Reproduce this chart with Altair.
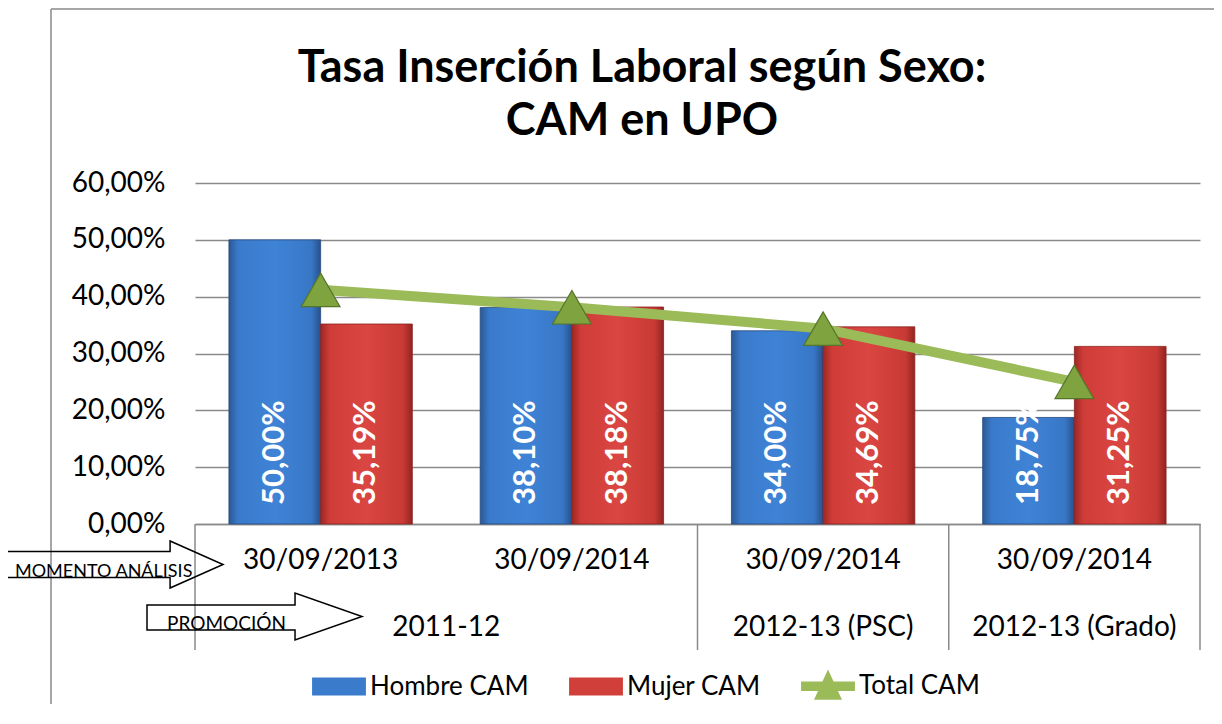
import altair as alt
import pandas as pd

# ---------------- data ----------------
momento = ["30/09/2013", "30/09/2014", "30/09/2014", "30/09/2014"]
promocion = ["2011-12", "2011-12", "2012-13 (PSC)", "2012-13 (Grado)"]
hombre = [50.00, 38.10, 34.00, 18.75]
mujer = [35.19, 38.18, 34.69, 31.25]
total = [41.2, 38.14, 34.38, 25.0]
series = ["Hombre CAM", "Mujer CAM", "Total CAM"]
y_ticks = [0, 10, 20, 30, 40, 50, 60]
title_lines = ["Tasa Inserción Laboral según Sexo:", "CAM en UPO"]

FONT = "Lato"
W, H = 1005, 341
GRID = "#8a8a8a"

cats = [f"{m}|{p}" for m, p in zip(momento, promocion)]


def pct(v):
    return f"{v:.2f}".replace(".", ",") + "%"


bars = pd.DataFrame({
    "cat": cats * 2,
    "serie": [series[0]] * len(cats) + [series[1]] * len(cats),
    "valor": hombre + mujer,
})
bars["etiqueta"] = bars["valor"].map(pct)
tot = pd.DataFrame({"cat": cats, "valor": total, "serie": series[2]})
promo_df = pd.DataFrame({"idx": list(range(len(promocion))), "promocion": promocion})
bounds = [i for i in range(len(promocion)) if i == 0 or promocion[i] != promocion[i - 1]] + [len(promocion)]
sep_df = pd.DataFrame({"b": bounds})
legend_df = pd.DataFrame({"serie": series})
one = pd.DataFrame({"k": [0]})

# ---------------- encodings ----------------
x_scale = alt.Scale(domain=cats, paddingInner=0.27, paddingOuter=0.135)
x_axis = alt.Axis(
    title=None, labelExpr="split(datum.value, '|')[0]", labelAngle=0,
    labelFont=FONT, labelFontSize=28, labelColor="black", labelPadding=22,
    ticks=False, domainColor=GRID, domainWidth=1.5, grid=False,
)
y_scale = alt.Scale(domain=[0, 60], nice=False, zero=True)
y_axis = alt.Axis(
    title=None, values=y_ticks,
    labelExpr="replace(format(datum.value, '.2f'), '.', ',') + '%'",
    labelFont=FONT, labelFontSize=28, labelColor="black", labelPadding=30,
    ticks=False, domain=False, grid=True, gridColor=GRID, gridWidth=1.5,
)
off_scale = alt.Scale(domain=series[:2], paddingInner=0, paddingOuter=0)


def grad(stops):
    return alt.Gradient(
        gradient="linear", x1=0, x2=1, y1=0, y2=0,
        stops=[alt.GradientStop(color=c, offset=o) for o, c in stops],
    )


blue = grad([(0, "#2b5894"), (0.1, "#3a7acb"), (0.5, "#3f83d6"), (0.9, "#3877c6"), (1, "#28508a")])
red = grad([(0, "#9c2724"), (0.1, "#d03d38"), (0.5, "#da4641"), (0.9, "#c83a35"), (1, "#922421")])

base = alt.Chart(bars)

bar_h = base.transform_filter(alt.datum.serie == series[0]).mark_bar(
    color=blue, stroke="#24497c", strokeWidth=0.8
).encode(
    x=alt.X("cat:N", scale=x_scale, axis=x_axis, sort=cats),
    xOffset=alt.XOffset("serie:N", scale=off_scale),
    y=alt.Y("valor:Q", scale=y_scale, axis=y_axis),
)
bar_m = base.transform_filter(alt.datum.serie == series[1]).mark_bar(
    color=red, stroke="#8a2220", strokeWidth=0.8
).encode(
    x=alt.X("cat:N", scale=x_scale, sort=cats),
    xOffset=alt.XOffset("serie:N", scale=off_scale),
    y=alt.Y("valor:Q", scale=y_scale),
)
labels = base.mark_text(
    angle=270, align="left", baseline="middle", dx=19,
    font=FONT, fontSize=31, fontWeight="bold", color="white",
).encode(
    x=alt.X("cat:N", scale=x_scale, sort=cats),
    xOffset=alt.XOffset("serie:N", scale=off_scale),
    y=alt.datum(0, scale=y_scale),
    text="etiqueta:N",
)
line = alt.Chart(tot).mark_line(color="#9bbb59", strokeWidth=10).encode(
    x=alt.X("cat:N", scale=x_scale, sort=cats),
    y=alt.Y("valor:Q", scale=y_scale),
)
tri = alt.Chart(tot).mark_point(
    shape="triangle-up", filled=True, size=1500, fill="#7ea33f",
    stroke="#55762a", strokeWidth=1.2, opacity=1,
).encode(
    x=alt.X("cat:N", scale=x_scale, sort=cats),
    y=alt.Y("valor:Q", scale=y_scale),
)

inner = alt.layer(bar_h, bar_m, labels, line, tri)

# second category level (promoción) on its own positional scale
pos_scale = alt.Scale(domain=[0, len(promocion)], nice=False, zero=False)
promo_text = alt.Chart(promo_df).transform_calculate(
    c="datum.idx + 0.5"
).transform_aggregate(
    c="mean(c)", groupby=["promocion"]
).mark_text(
    font=FONT, fontSize=28, color="black", baseline="middle", align="center"
).encode(
    x=alt.X("c:Q", scale=pos_scale, axis=None),
    y=alt.value(445),
    text="promocion:N",
)
seps = alt.Chart(sep_df).mark_rule(color=GRID, strokeWidth=1.5).encode(
    x=alt.X("b:Q", scale=pos_scale, axis=None),
    y=alt.value(H),
    y2=alt.value(467),
)

# title (two lines)
title1 = alt.Chart(one).mark_text(
    text=title_lines[0], font=FONT, fontSize=45, fontWeight="bold",
    color="black", align="center", baseline="alphabetic",
).encode(x=alt.value(447), y=alt.value(-101))
title2 = alt.Chart(one).mark_text(
    text=title_lines[1], font=FONT, fontSize=45, fontWeight="bold",
    color="black", align="center", baseline="alphabetic",
).encode(x=alt.value(447), y=alt.value(-48))

# arrows with captions
arrow1 = alt.Chart(one).mark_point(
    shape="M-1,-0.12H0.51V-0.218L1,0L0.51,0.218V0.12H-1Z",
    size=216 * 216, filled=False, stroke="black", strokeWidth=1.5, opacity=1,
).encode(x=alt.value(-80), y=alt.value(381.5))
arrow2 = alt.Chart(one).mark_point(
    shape="M-1,-0.107H0.377V-0.219L1,0L0.377,0.219V0.126H-1Z",
    size=215 * 215, filled=False, stroke="black", strokeWidth=1.5, opacity=1,
).encode(x=alt.value(59.5), y=alt.value(433.5))
atext1 = alt.Chart(one).mark_text(
    text="MOMENTO ANÁLISIS", font=FONT, fontSize=18, align="left",
    baseline="alphabetic", color="black",
).encode(x=alt.value(-180), y=alt.value(394))
atext2 = alt.Chart(one).mark_text(
    text="PROMOCIÓN", font=FONT, fontSize=19, align="left",
    baseline="alphabetic", color="black",
).encode(x=alt.value(-28), y=alt.value(447))

# outer chart frame
frame_l = alt.Chart(one).mark_rule(color="#a6a6a6", strokeWidth=2).encode(
    x=alt.value(-144), y=alt.value(-174), y2=alt.value(541))
frame_t = alt.Chart(one).mark_rule(color="#a6a6a6", strokeWidth=2).encode(
    x=alt.value(-144), x2=alt.value(1030), y=alt.value(-174))

# legend carrier
rect_path = "M-1,-0.33H1V0.33H-1Z"
tot_path = "M-1,-0.18H1V0.18H-1Z M0,-0.62L0.52,0.5H-0.52Z"
leg = alt.Legend(
    title=None, orient="none", legendX=117, legendY=476, direction="horizontal",
    symbolSize=2900, symbolOpacity=1, symbolStrokeWidth=0,
    labelFont=FONT, labelFontSize=26, labelColor="black", labelOffset=4,
    columnPadding=40, padding=0,
)
legend_layer = alt.Chart(legend_df).mark_point(filled=True, opacity=0).encode(
    color=alt.Color("serie:N", scale=alt.Scale(domain=series, range=["#3a7bcc", "#d13f3a", "#9bbb59"]), legend=leg),
    shape=alt.Shape("serie:N", scale=alt.Scale(domain=series, range=[rect_path, rect_path, tot_path]), legend=leg),
)

chart = alt.layer(
    frame_l, frame_t, title1, title2, inner, seps, promo_text,
    arrow1, arrow2, atext1, atext2, legend_layer
).resolve_scale(x="independent").properties(
    width=W, height=H,
    padding={"left": 187, "top": 175, "right": 14, "bottom": 180},
    autosize=alt.AutoSizeParams(type="none"),
    background="white",
).configure_view(stroke=None)

chart.save("out.html", embed_options={"renderer": "svg", "actions": False})
